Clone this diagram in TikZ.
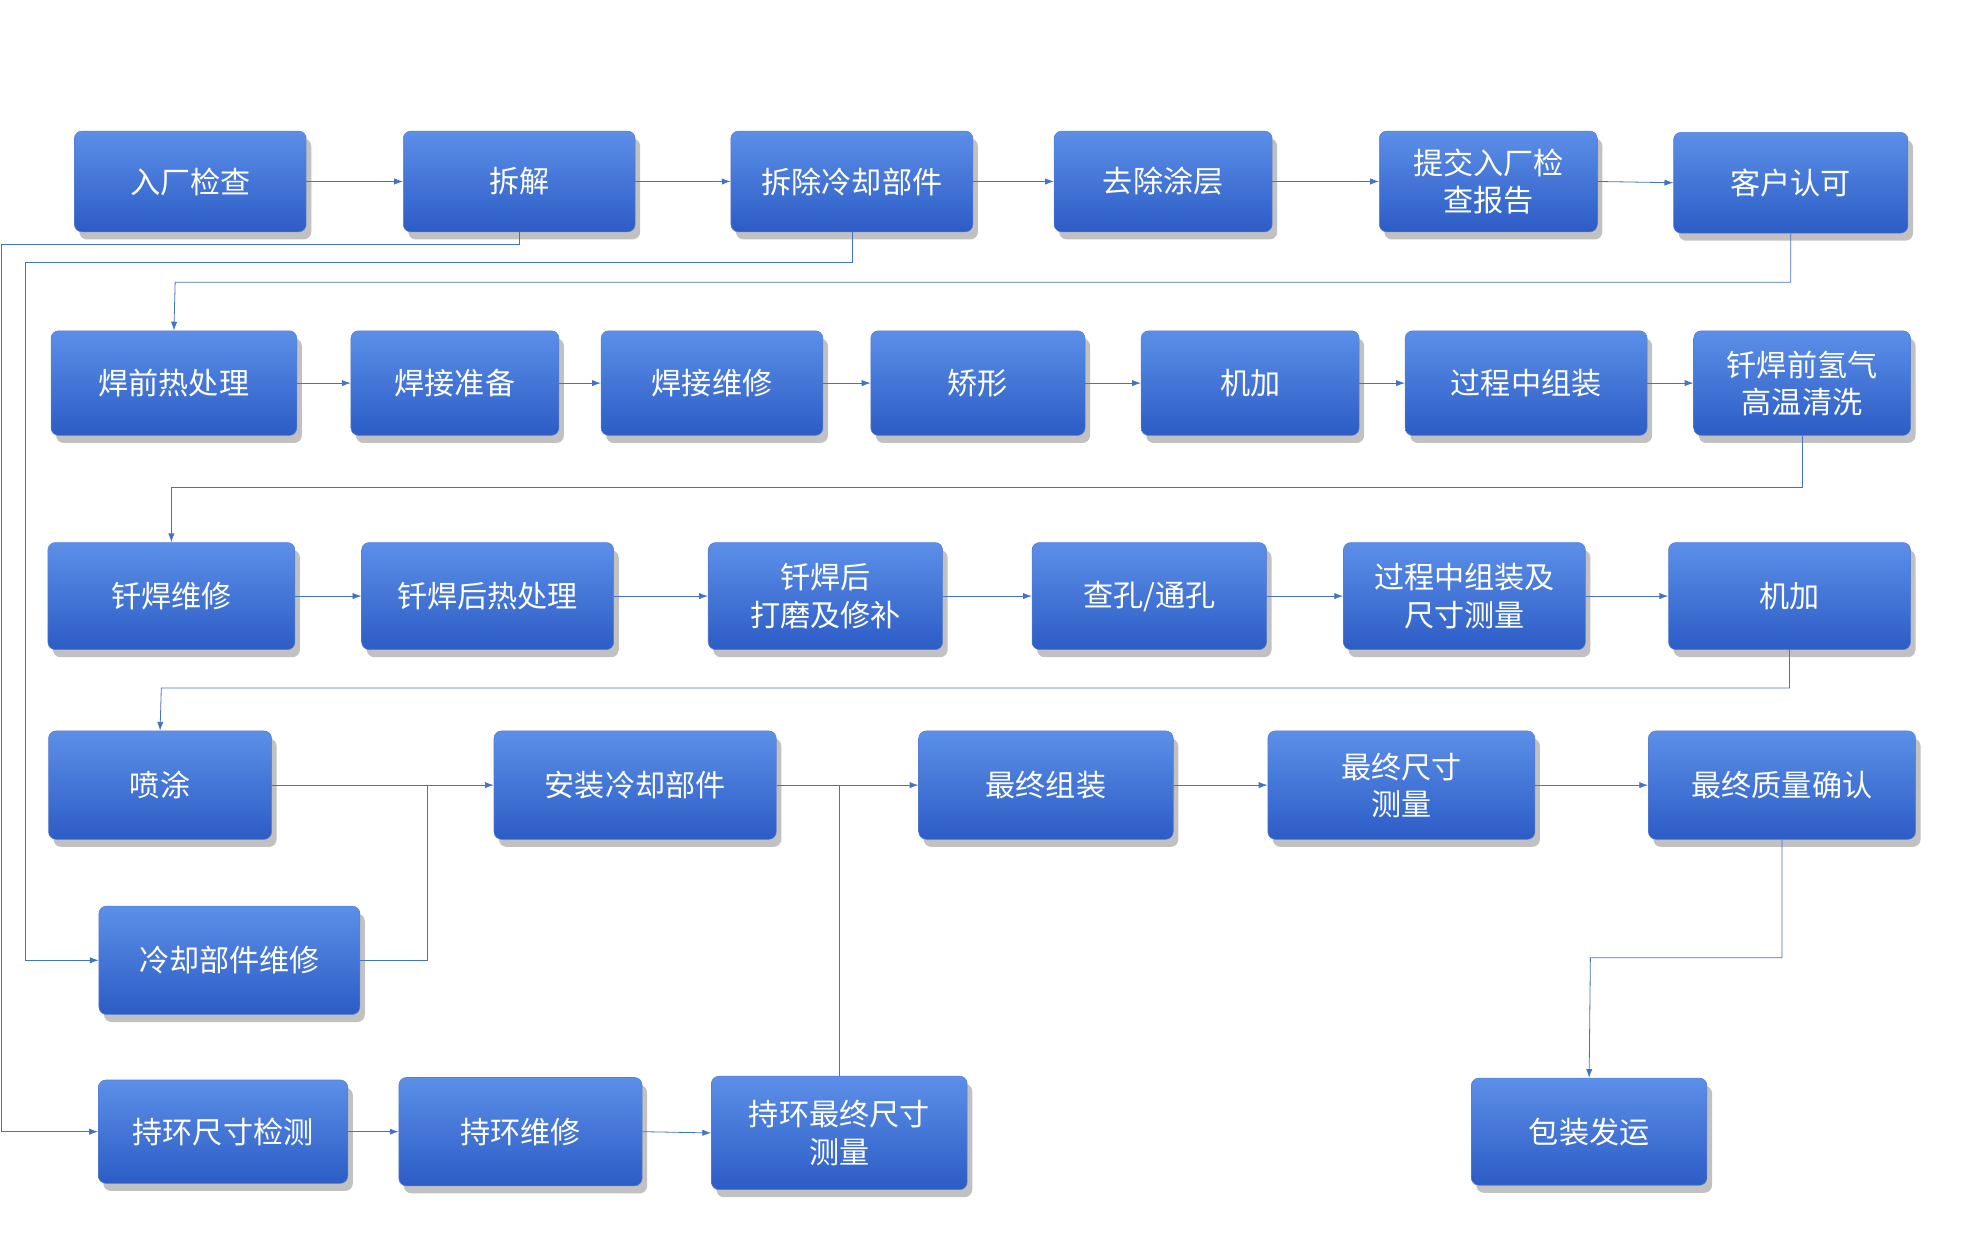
\documentclass[tikz,border=0pt]{standalone}
\usepackage{fontspec}
\newfontfamily\cjk{Noto Sans CJK SC}
\usetikzlibrary{shadows,arrows.meta}
\definecolor{ln}{HTML}{4472C4}
\definecolor{bt}{HTML}{5C8FE8}
\definecolor{bb}{HTML}{2C5CC5}
\tikzset{
 box/.style={rounded corners=3mm, top color=bt, bottom color=bb, draw=bb!80!white, line width=0.6pt,
   text=white, font=\cjk\fontsize{34}{42}\selectfont, align=center,
   drop shadow={shadow xshift=2mm, shadow yshift=-3mm, opacity=0.35, fill=black!70}},
 cn/.style={draw=ln, line width=0.9pt},
 arr/.style={cn, -{Latex[length=3.5mm,width=2.5mm]}}
}
\newcommand\bx[6]{\node[box,minimum width=#4*0.5mm,minimum height=#5*0.5mm,inner sep=0pt] (#1) at (#2,#3) {#6};}
\begin{document}
\begin{tikzpicture}[x=0.5mm,y=-0.5mm]
\useasboundingbox (0,0) rectangle (1568,993);
\bx{a1}{151}{144}{184}{80}{入厂检查}
\bx{a2}{412}{144}{184}{80}{拆解}
\bx{a3}{676}{144}{192}{80}{拆除冷却部件}
\bx{a4}{923}{144}{173}{80}{去除涂层}
\bx{a5}{1181}{144}{173}{80}{提交入厂检\\查报告}
\bx{a6}{1421}{145}{186}{80}{客户认可}
\bx{b1}{138}{304}{195}{83}{焊前热处理}
\bx{b2}{361}{304}{165}{83}{焊接准备}
\bx{b3}{565}{304}{176}{83}{焊接维修}
\bx{b4}{776}{304}{170}{83}{矫形}
\bx{b5}{992}{304}{173}{83}{机加}
\bx{b6}{1211}{304}{192}{83}{过程中组装}
\bx{b7}{1430}{304}{172}{83}{钎焊前氢气\\高温清洗}
\bx{c1}{136}{473}{196}{85}{钎焊维修}
\bx{c2}{387}{473}{200}{85}{钎焊后热处理}
\bx{c3}{655}{473}{186}{85}{钎焊后\\打磨及修补}
\bx{c4}{912}{473}{186}{85}{查孔/通孔}
\bx{c5}{1162}{473}{192}{85}{过程中组装及\\尺寸测量}
\bx{c6}{1420}{473}{192}{85}{机加}
\bx{d1}{127}{623}{177}{86}{喷涂}
\bx{d2}{504}{623}{224}{86}{安装冷却部件}
\bx{d3}{830}{623}{202}{86}{最终组装}
\bx{d4}{1112}{623}{212}{86}{最终尺寸\\测量}
\bx{d5}{1414}{623}{212}{86}{最终质量确认}
\bx{e1}{182}{762}{207}{86}{冷却部件维修}
\bx{f1}{177}{898}{198}{82}{持环尺寸检测}
\bx{f2}{413}{898}{193}{86}{持环维修}
\bx{f3}{666}{899}{203}{90}{持环最终尺寸\\测量}
\bx{g}{1261}{898}{187}{85}{包装发运}
\foreach \p/\q in {a1/a2,a2/a3,a3/a4,a4/a5,a5/a6,b1/b2,b2/b3,b3/b4,b4/b5,b5/b6,b6/b7,
  c1/c2,c2/c3,c3/c4,c4/c5,c5/c6,d1/d2,d2/d3,d3/d4,d4/d5,f1/f2,f2/f3}
  \draw[arr] (\p.east) -- (\q.west);
\draw[arr] (a6.south) |- (139,224) -- (b1.north);
\draw[arr] (b7.south) |- (136,387) -- (c1.north);
\draw[arr] (c6.south) |- (128,546) -- (d1.north);
\draw[arr] (a2.south) |- (1,194) |- (f1.west);
\draw[arr] (a3.south) |- (20,208) |- (e1.west);
\draw[cn] (e1.east) -| (339,623);
\draw[cn] (f3.north) -- (666,623);
\draw[arr] (d5.south) |- (1262,760) -- (g.north);
\end{tikzpicture}
\end{document}
